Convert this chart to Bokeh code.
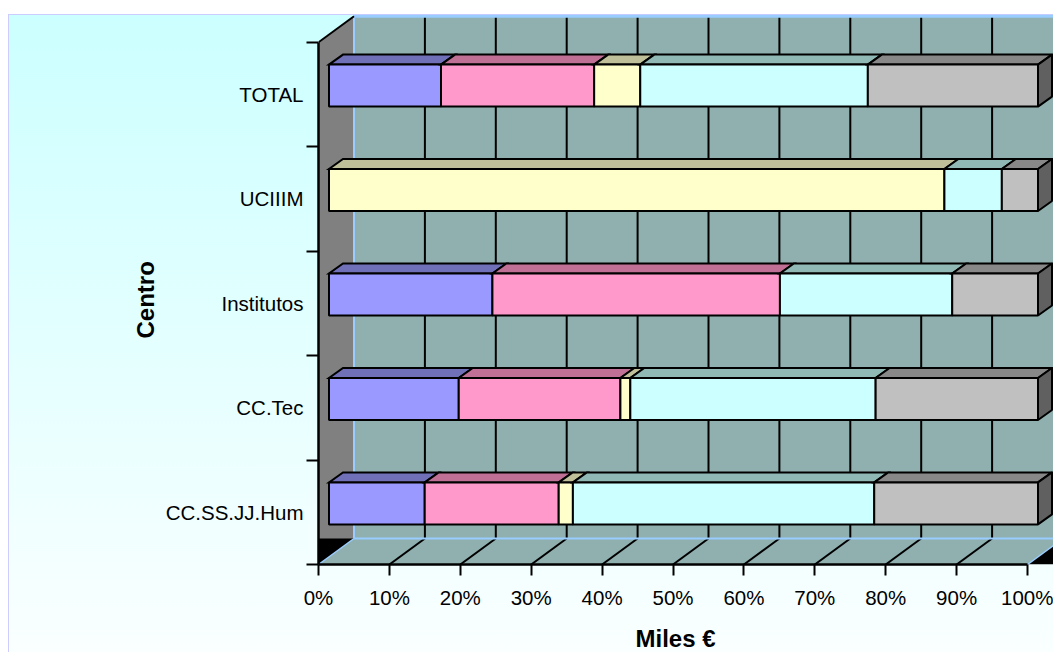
from bokeh.plotting import figure
from bokeh.models import FixedTicker, LinearAxis, Range1d, Title
from bokeh.embed import file_html
from bokeh.resources import INLINE

categories = ["CC.SS.JJ.Hum", "CC.Tec", "Institutos", "UCIIIM", "TOTAL"]
series_a = [13.5, 18.3, 23.05, 0.0, 15.8]
series_b = [18.9, 22.8, 40.55, 0.0, 21.6]
series_c = [2.0, 1.4, 0.0, 86.8, 6.5]
series_d = [42.5, 34.6, 24.3, 8.1, 32.1]
series_e = [23.1, 22.9, 12.1, 5.1, 24.0]
x_ticks = [0, 10, 20, 30, 40, 50, 60, 70, 80, 90, 100]
x_tick_labels = ["0%", "10%", "20%", "30%", "40%", "50%", "60%", "70%", "80%", "90%", "100%"]
front_colors = ["#9999FF", "#FF99CC", "#FFFFCC", "#CCFFFF", "#C0C0C0"]
top_colors = ["#7070B8", "#C07094", "#BFBF99", "#90B8B4", "#888888"]

PX_X = 7.09
PX_Y = 104.45
px = lambda v: v / PX_X
py = lambda v: v / PX_Y
FONT = "Liberation Sans"
LW = 2

WALL_DX, WALL_DY = px(35.5), py(26)
BAR_X0 = px(10.5)
BAR_H = py(42)
BAR_DX, BAR_TOP = px(14), py(10)
WALL = "#8FB0AF"
EDGE = "#99CCFF"

p = figure(width=1045, height=638, output_backend="svg", toolbar_location=None,
           x_range=Range1d(0, 735 / PX_X), y_range=Range1d(0, 550 / PX_Y),
           min_border_left=310, min_border_right=0, min_border_top=0, min_border_bottom=88,
           margin=(14, 0, 0, 8),
           background_fill_alpha=0, border_fill_alpha=0, outline_line_color=None,
           styles={"background": "linear-gradient(#CCFFFF, #FAFFFF)",
                   "box-shadow": "inset 1px 1px 0 #CCCCFF"})
p.grid.visible = False

n = len(categories)
xe = 100 + WALL_DX
ye = n + WALL_DY
# walls and floor
p.quad(left=[WALL_DX], right=[xe], bottom=[WALL_DY], top=[ye], fill_color=WALL, line_color=None)
p.patch([0, 100, xe, WALL_DX], [0, 0, WALL_DY, WALL_DY], fill_color=WALL, line_color=None)
p.patch([0, WALL_DX, WALL_DX, 0], [0, WALL_DY, ye, n], fill_color="#808080", line_color=None)
p.patch([0, WALL_DX, 0], [0, WALL_DY, WALL_DY], fill_color="#000000", line_color=None)
p.patch([100, xe, xe], [0, 0, WALL_DY], fill_color="#000000", line_color=None)
# gridlines
grid_x = x_ticks[1:-1]
p.segment(x0=[t + WALL_DX for t in grid_x], y0=[WALL_DY] * len(grid_x),
          x1=[t + WALL_DX for t in grid_x], y1=[ye] * len(grid_x), line_color="#000000", line_width=LW)
p.segment(x0=grid_x, y0=[0] * len(grid_x),
          x1=[t + WALL_DX for t in grid_x], y1=[WALL_DY] * len(grid_x), line_color="#000000", line_width=LW)
# light edges of the box
p.line([WALL_DX, WALL_DX], [WALL_DY, ye], line_color=EDGE, line_width=2)
p.line([WALL_DX, xe], [ye, ye], line_color=EDGE, line_width=3)
p.line([WALL_DX, xe], [WALL_DY, WALL_DY], line_color=EDGE, line_width=2)
p.line([0, WALL_DX], [0, WALL_DY], line_color=EDGE, line_width=1.5)
p.line([100, xe], [0, WALL_DY], line_color=EDGE, line_width=1.5)
# top-left diagonal of the side wall
p.line([0, WALL_DX], [n, ye], line_color="#000000", line_width=LW)

# stacked bars
all_series = [series_a, series_b, series_c, series_d, series_e]
for i in range(n):
    y0 = i + 0.585 - BAR_H / 2
    y1 = y0 + BAR_H
    start = BAR_X0
    for s, vals in enumerate(all_series):
        v = vals[i]
        if v <= 0:
            continue
        end = start + v
        p.patch([start, end, end + BAR_DX, start + BAR_DX], [y1, y1, y1 + BAR_TOP, y1 + BAR_TOP],
                fill_color=top_colors[s], line_color="#000000", line_width=LW, line_join="miter")
        p.quad(left=[start], right=[end], bottom=[y0], top=[y1],
               fill_color=front_colors[s], line_color="#000000", line_width=LW)
        start = end
    p.patch([start, start + BAR_DX, start + BAR_DX, start],
            [y0, y0 + BAR_TOP, y1 + BAR_TOP, y1],
            fill_color="#606060", line_color="#000000", line_width=LW)

# axes
xa = p.xaxis[0]
xa.ticker = FixedTicker(ticks=x_ticks)
xa.major_label_overrides = {t: l for t, l in zip(x_ticks, x_tick_labels)}
xa.bounds = (0, 100)
xa.major_tick_in = 0
xa.major_tick_out = 11
xa.major_tick_line_width = LW
xa.major_tick_line_color = "#000000"
xa.minor_tick_line_color = None
xa.axis_line_color = "#000000"
xa.axis_line_width = 2.5
xa.major_label_standoff = 10
xa.major_label_text_font = FONT
xa.major_label_text_font_size = "20.5px"
xa.major_label_text_color = "#000000"

ya = p.yaxis[0]
y_label_pos = [i + 0.5 for i in range(n)]
ya.ticker = FixedTicker(ticks=y_label_pos, minor_ticks=list(range(n + 1)))
ya.major_label_overrides = {t: l for t, l in zip(y_label_pos, categories)}
ya.bounds = (0, n)
ya.major_tick_in = 0
ya.major_tick_out = 0
ya.minor_tick_in = 0
ya.minor_tick_out = 12
ya.minor_tick_line_width = LW
ya.minor_tick_line_color = "#000000"
ya.axis_line_color = "#000000"
ya.axis_line_width = 2.5
ya.major_label_standoff = 3
ya.major_label_text_font = FONT
ya.major_label_text_font_size = "20.5px"
ya.major_label_text_color = "#000000"

# invisible spacer axis pushes the x title down to its place
spacer = LinearAxis(ticker=FixedTicker(ticks=[50]), major_label_overrides={50: ""},
                    axis_line_alpha=0, major_tick_line_alpha=0, minor_tick_line_alpha=0,
                    major_tick_in=0, major_tick_out=18, minor_tick_out=0,
                    major_label_standoff=0, major_label_text_alpha=0, major_label_text_font_size="1px")
p.add_layout(spacer, "below")
p.add_layout(Title(text="Miles €", align="left", vertical_align="top", offset=317, standoff=-10,
                   text_font=FONT, text_font_style="bold", text_font_size="24px",
                   text_color="#000000"), "below")
p.add_layout(Title(text="Centro", align="left", offset=226, standoff=8, text_font=FONT,
                   text_font_style="bold", text_font_size="24px", text_color="#000000"), "left")

open("out.html", "w").write(file_html(p, INLINE))
